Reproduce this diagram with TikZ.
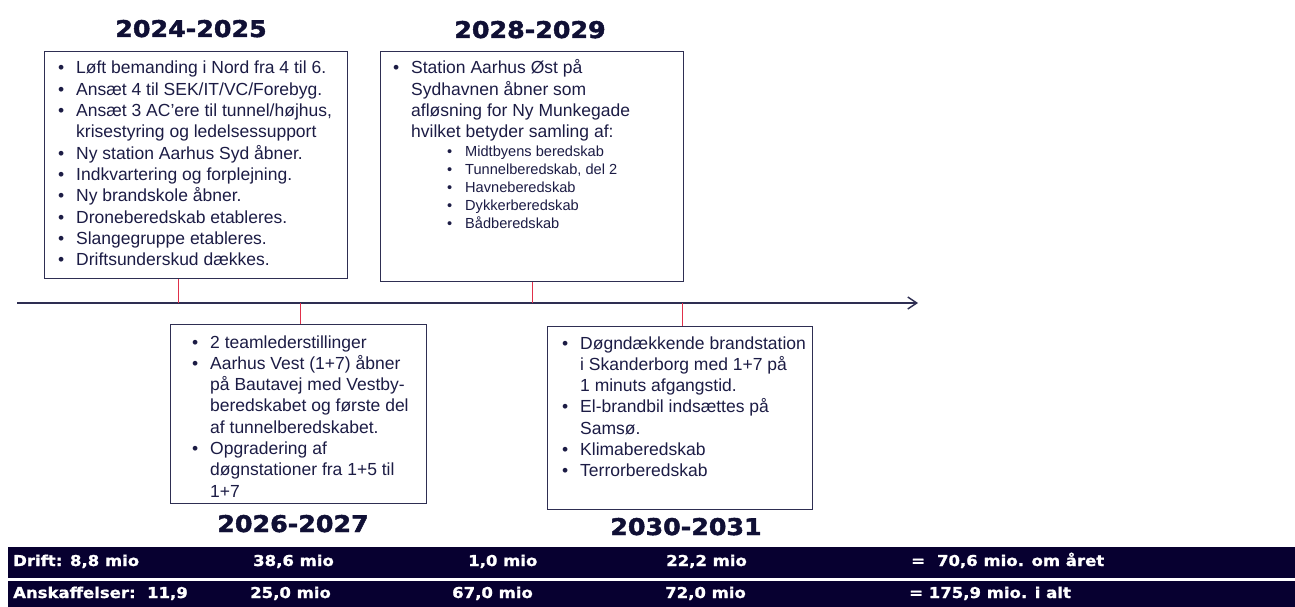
\documentclass[tikz,border=0pt]{standalone}
\usepackage{fontspec}
\setmainfont{Liberation Sans}
\newfontfamily\hdfont{DejaVu Sans}[FakeStretch=1.1,FakeBold=2]
\newfontfamily\barfont{DejaVu Sans}[FakeStretch=1.1,FakeBold=1.2]
\usetikzlibrary{arrows.meta}
\definecolor{navy}{HTML}{101035}
\definecolor{txtc}{HTML}{1C1C45}
\definecolor{boxc}{HTML}{2E2E52}
\definecolor{barc}{HTML}{070030}
\definecolor{tickc}{HTML}{E0304A}
\newcommand\bl{\par\noindent\hangindent=18pt\hangafter=1\makebox[18pt][l]{\textbullet}}
\newcommand\nl{\hfil\break}
\newcommand\mainsz{\fontsize{17.5}{21.3}\selectfont}
\newcommand\subsz{\fontsize{14.6}{17.75}\selectfont}
\tikzset{
  tbox/.style={draw=boxc, line width=1.4pt, fill=white, inner sep=0pt, anchor=north west},
  hd/.style={font=\hdfont\bfseries\fontsize{23}{27}\selectfont, text=navy, anchor=base, inner sep=0pt},
  bartxt/.style={font=\barfont\bfseries\fontsize{15}{17}\selectfont, text=white, anchor=base west, inner sep=0pt},
  body/.style={text=txtc, anchor=base west, inner sep=0pt},
  tline/.style={draw=boxc, line width=1.4pt},
  tick/.style={draw=tickc, line width=1pt},
}
\begin{document}
\begin{tikzpicture}[x=1pt,y=-1pt]
\useasboundingbox (0,0) rectangle (1295,607);
% boxes
\node[tbox, minimum width=303pt, minimum height=227pt] (b1) at (44,51) {};
\node[tbox, minimum width=303pt, minimum height=230pt] (b2) at (380,51) {};
\node[tbox, minimum width=256pt, minimum height=179pt] (b3) at (170,324) {};
\node[tbox, minimum width=265pt, minimum height=183pt] (b4) at (547,326) {};
% timeline
\coordinate (tl0) at (17,303);
\coordinate (tl1) at (918,303);
\draw[tline, -{Straight Barb[length=9pt,width=12pt,line width=1.4pt]}] (tl0) -- (tl1);
\coordinate (k1) at (178,303);
\coordinate (k2) at (300,303);
\coordinate (k3) at (532,303);
\coordinate (k4) at (682,303);
\draw[tick] (k1 |- b1.south) -- (k1);
\draw[tick] (k2) -- (k2 |- b3.north);
\draw[tick] (k3 |- b2.south) -- (k3);
\draw[tick] (k4) -- (k4 |- b4.north);
% headers
\node[hd] (h1) at (191,37) {2024-2025};
\node[hd] (h2) at (530,38) {2028-2029};
\node[hd] (h3) at (293,532) {2026-2027};
\node[hd] (h4) at (686,535) {2030-2031};
% box texts
\node[body] (t1) at (58,74) {\begin{minipage}[t]{288pt}\mainsz\raggedright
\bl Løft bemanding i Nord fra 4 til 6.
\bl Ansæt 4 til SEK/IT/VC/Forebyg.
\bl Ansæt 3 AC’ere til tunnel/højhus,\nl krisestyring og ledelsessupport
\bl Ny station Aarhus Syd åbner.
\bl Indkvartering og forplejning.
\bl Ny brandskole åbner.
\bl Droneberedskab etableres.
\bl Slangegruppe etableres.
\bl Driftsunderskud dækkes.
\end{minipage}};
\node[body] (t2) at (393,74) {\begin{minipage}[t]{288pt}\mainsz\raggedright
\bl Station Aarhus Øst på\nl Sydhavnen åbner som\nl afløsning for Ny Munkegade\nl hvilket betyder samling af:
\end{minipage}};
\node[body] (t2s) at (447,157) {\begin{minipage}[t]{230pt}\subsz\raggedright
\bl Midtbyens beredskab
\bl Tunnelberedskab, del 2
\bl Havneberedskab
\bl Dykkerberedskab
\bl Bådberedskab
\end{minipage}};
\node[body] (t3) at (192,348) {\begin{minipage}[t]{232pt}\mainsz\raggedright
\bl 2 teamlederstillinger
\bl Aarhus Vest (1+7) åbner\nl på Bautavej med Vestby-\nl beredskabet og første del\nl af tunnelberedskabet.
\bl Opgradering af\nl døgnstationer fra 1+5 til\nl 1+7
\end{minipage}};
\node[body] (t4) at (562,349) {\begin{minipage}[t]{250pt}\mainsz\raggedright
\bl Døgndækkende brandstation\nl i Skanderborg med 1+7 på\nl 1 minuts afgangstid.
\bl El-brandbil indsættes på\nl Samsø.
\bl Klimaberedskab
\bl Terrorberedskab
\end{minipage}};
% bottom bars
\fill[barc] (8,547) rectangle (1295,577.5);
\fill[barc] (8,580.5) rectangle (1295,607);
\node[bartxt] (d0) at (13,566) {Drift: 8,8 mio};
\node[bartxt] (d1) at (253,566) {38,6 mio};
\node[bartxt] (d2) at (468,566) {1,0 mio};
\node[bartxt] (d3) at (666,566) {22,2 mio};
\node[bartxt] (d4) at (911,566) {=\hspace{12pt}70,6 mio. om året};
\node[bartxt] (a0) at (13,598) {Anskaffelser:\ \ 11,9};
\node[bartxt] (a1) at (250,598) {25,0 mio};
\node[bartxt] (a2) at (452,598) {67,0 mio};
\node[bartxt] (a3) at (665,598) {72,0 mio};
\node[bartxt] (a4) at (909,598) {= 175,9 mio. i alt};
\end{tikzpicture}
\end{document}
